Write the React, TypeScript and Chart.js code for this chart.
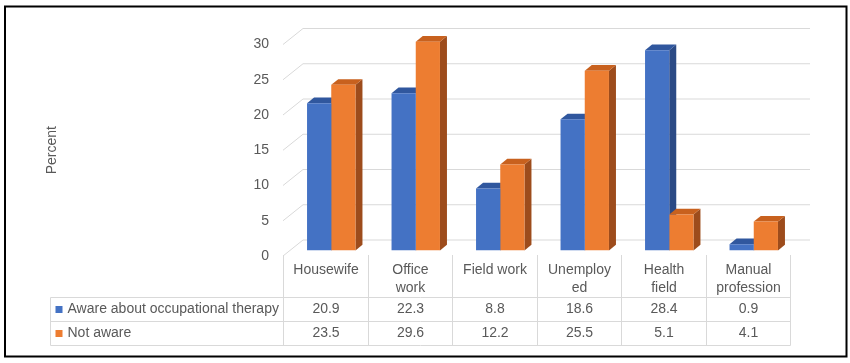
import React, { useEffect, useRef } from 'react';
import { Chart, registerables } from 'chart.js';

Chart.register(...registerables);

// ---------- data ----------
const categories: string[][] = [
  ['Housewife'],
  ['Office', 'work'],
  ['Field work'],
  ['Unemploy', 'ed'],
  ['Health', 'field'],
  ['Manual', 'profession'],
];
const seriesNames = ['Aware about occupational therapy', 'Not aware'];
const awareValues = [20.9, 22.3, 8.8, 18.6, 28.4, 0.9];
const notAwareValues = [23.5, 29.6, 12.2, 25.5, 5.1, 4.1];
const yMin = 0;
const yMax = 30;
const yStep = 5;
const yTitle = 'Percent';

// ---------- styles ----------
const FONT = "'Liberation Sans', Arial, sans-serif";
const TEXT = '#595959';
const GRID = '#D9D9D9';
const FRONT = ['#4472C4', '#ED7D31'];
const TOP = ['#30579E', '#C8611E'];
const SIDE = ['#2B4A85', '#9D4C1C'];
const WALL_DX = 20;
const WALL_DY = -16;
const BAR_SHIFT_X = 6;
const BAR_SHIFT_Y = -5.5;
const DEPTH_DX = 7;
const DEPTH_DY = -5.7;

const threeDPlugin = {
  id: 'threeD',
  beforeDatasetsDraw(chart: any) {
    const { ctx, chartArea, scales } = chart;
    const y = scales.y;
    const x = scales.x;
    ctx.save();
    // back wall gridlines + side slants
    ctx.strokeStyle = GRID;
    ctx.lineWidth = 1;
    for (let v = yMin; v <= yMax; v += yStep) {
      const fy = y.getPixelForValue(v);
      ctx.beginPath();
      ctx.moveTo(chartArea.left, fy);
      ctx.lineTo(chartArea.left + WALL_DX, fy + WALL_DY);
      ctx.lineTo(chartArea.right + WALL_DX, fy + WALL_DY);
      ctx.stroke();
    }

    // data table
    const n = categories.length;
    const cw = x.getPixelForValue(1) - x.getPixelForValue(0);
    const bounds: number[] = [];
    for (let i = 0; i <= n; i++) {
      bounds.push(Math.round(x.getPixelForValue(0) - cw / 2 + i * cw) + 0.5);
    }
    const tableLeft = 50.5;
    const floorY = chartArea.bottom - 1;
    const rowLines = [297.5, 321.5, 345.5];
    ctx.beginPath();
    for (const ry of rowLines) {
      ctx.moveTo(tableLeft, ry);
      ctx.lineTo(bounds[n], ry);
    }
    ctx.moveTo(tableLeft, rowLines[0]);
    ctx.lineTo(tableLeft, rowLines[2]);
    for (const bx of bounds) {
      ctx.moveTo(bx, floorY);
      ctx.lineTo(bx, rowLines[2]);
    }
    ctx.stroke();

    ctx.fillStyle = TEXT;
    ctx.font = `14px ${FONT}`;
    ctx.textBaseline = 'middle';
    ctx.textAlign = 'center';
    categories.forEach((lines, i) => {
      const cx = (bounds[i] + bounds[i + 1]) / 2;
      lines.forEach((ln, j) => ctx.fillText(ln, cx, 270.5 + j * 18));
    });
    const series = [awareValues, notAwareValues];
    series.forEach((vals, r) => {
      const cy = (rowLines[r] + rowLines[r + 1]) / 2;
      ctx.fillStyle = FRONT[r];
      ctx.fillRect(55.5, cy - 3.5, 7, 7);
      ctx.fillStyle = TEXT;
      ctx.textAlign = 'left';
      ctx.fillText(seriesNames[r], 67.5, cy);
      ctx.textAlign = 'center';
      vals.forEach((v, i) => {
        ctx.fillText(v.toFixed(1), (bounds[i] + bounds[i + 1]) / 2, cy);
      });
    });
    ctx.restore();

    // bars shifted into depth; draw top and side faces behind the fronts
    ctx.save();
    ctx.translate(BAR_SHIFT_X, BAR_SHIFT_Y);
    for (let i = 0; i < n; i++) {
      for (let d = 0; d < chart.data.datasets.length; d++) {
        const el: any = chart.getDatasetMeta(d).data[i];
        if (!el) continue;
        const { x: bx, y: by, base, width } = el.getProps(['x', 'y', 'base', 'width'], true);
        const l = bx - width / 2;
        const r = bx + width / 2;
        ctx.fillStyle = SIDE[d];
        ctx.beginPath();
        ctx.moveTo(r, by);
        ctx.lineTo(r + DEPTH_DX, by + DEPTH_DY);
        ctx.lineTo(r + DEPTH_DX, base + DEPTH_DY);
        ctx.lineTo(r, base);
        ctx.closePath();
        ctx.fill();
        ctx.fillStyle = TOP[d];
        ctx.beginPath();
        ctx.moveTo(l, by);
        ctx.lineTo(r, by);
        ctx.lineTo(r + DEPTH_DX, by + DEPTH_DY);
        ctx.lineTo(l + DEPTH_DX, by + DEPTH_DY);
        ctx.closePath();
        ctx.fill();
      }
    }
  },
  afterDatasetsDraw(chart: any) {
    chart.ctx.restore();
  },
  afterDraw(chart: any) {
    const { ctx } = chart;
    ctx.save();
    ctx.strokeStyle = '#000000';
    ctx.lineWidth = 2;
    ctx.strokeRect(5, 6.5, 841.5, 350);
    ctx.restore();
  },
};

export default function App() {
  const ref = useRef<HTMLCanvasElement | null>(null);
  useEffect(() => {
    if (!ref.current) return;
    const chart = new Chart(ref.current, {
      type: 'bar',
      data: {
        labels: categories,
        datasets: [
          { label: seriesNames[0], data: awareValues, backgroundColor: FRONT[0], borderWidth: 0 },
          { label: seriesNames[1], data: notAwareValues, backgroundColor: FRONT[1], borderWidth: 0 },
        ],
      },
      options: {
        responsive: false,
        animation: false,
        layout: { padding: { left: 0, right: 60, top: 44.5, bottom: 107 } },
        plugins: { legend: { display: false }, tooltip: { enabled: false } },
        datasets: { bar: { barPercentage: 1, categoryPercentage: 0.573 } },
        scales: {
          x: { display: false },
          y: {
            min: yMin,
            max: yMax,
            ticks: { stepSize: yStep, color: TEXT, font: { family: FONT, size: 14 }, padding: 14 },
            grid: { display: false, drawTicks: false },
            border: { display: false },
            title: {
              display: true,
              text: yTitle,
              color: TEXT,
              font: { family: FONT, size: 14 },
              padding: { top: 44, bottom: 0 },
            },
            afterFit(scale: any) {
              scale.width = 283;
            },
          },
        },
      } as any,
      plugins: [threeDPlugin],
    });
    return () => chart.destroy();
  }, []);
  return (
    <div style={{ position: 'absolute', left: 0, top: 0, width: 850, height: 363, background: '#fff' }}>
      <canvas ref={ref} width={850} height={363} style={{ display: 'block' }} />
    </div>
  );
}
